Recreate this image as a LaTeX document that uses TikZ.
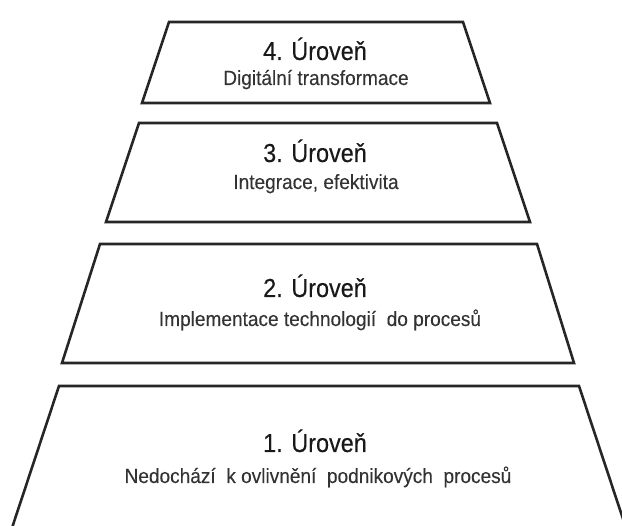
\documentclass[tikz,border=0pt]{standalone}
\usepackage{fontspec}
\setmainfont{Liberation Sans}
\newfontfamily\levelfont[FakeStretch=0.9, FakeBold=0.3]{Liberation Sans}
\newfontfamily\notefont[FakeStretch=0.93, FakeBold=0.15]{Liberation Sans}
\usetikzlibrary{positioning}
\tikzset{
    level/.style    = {draw=black!85, line width=2.6pt, line join=miter},
    title/.style    = {anchor=base, inner sep=0pt,
                       font=\levelfont\fontsize{26}{30}\selectfont, text=black!90},
    subtitle/.style = {anchor=base, inner sep=0pt,
                       font=\notefont\fontsize{20.5}{24}\selectfont, text=black!80}
}

\begin{document}
\begin{tikzpicture}[x=1pt, y=-1pt]
\useasboundingbox (0,0) rectangle (622,526);
\clip (0,0) rectangle (622,526);

% Levels, from the top of the pyramid down
\draw[level] (169,22)  -- (463,22)  -- (490,103) -- (142,103) -- cycle;
\draw[level] (139,123) -- (497,123) -- (530,222) -- (106,222) -- cycle;
\draw[level] (100,244) -- (537,244) -- (574,363) -- (62,363)  -- cycle;
\draw[level] (59,386)  -- (579,386) -- (630,540) -- (8,540)   -- cycle;

% Labels (at their baselines)
\node[title] (lvl4) at (315,60) {4. Úroveň};
\node[subtitle] (lvl4sub) at (316,85) {Digitální transformace};
\node[title] (lvl3) at (315,162) {3. Úroveň};
\node[subtitle] (lvl3sub) at (316,189) {Integrace, efektivita};
\node[title] (lvl2) at (315,297) {2. Úroveň};
\node[subtitle] (lvl2sub) at (320,326) {Implementace technologií\ \ do procesů};
\node[title] (lvl1) at (315,452) {1. Úroveň};
\node[subtitle] (lvl1sub) at (318,483) {Nedochází\ \ k ovlivnění\ \ podnikových\ \ procesů};

\end{tikzpicture}
\end{document}
